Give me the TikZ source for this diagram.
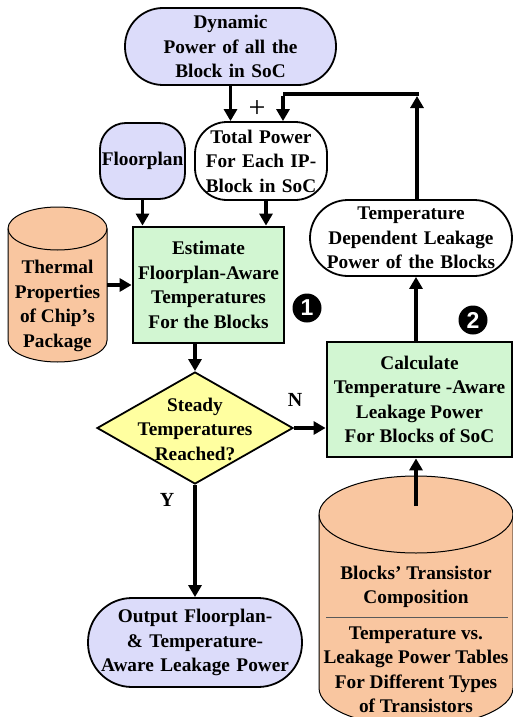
\documentclass[tikz,border=0pt]{standalone}
\usepackage{fontspec}
\setmainfont{Liberation Serif}
\newfontfamily\numfont{Liberation Sans}
\usetikzlibrary{arrows.meta,shapes.geometric}
\definecolor{cblue}{HTML}{DCDCFA}
\definecolor{cgreen}{HTML}{D2F6D2}
\definecolor{cyellow}{HTML}{FFFFA0}
\definecolor{corange}{HTML}{F9C6A0}
\tikzset{
  txt/.style={font=\bfseries\fontsize{19.3}{24.5}\selectfont, align=center, inner sep=0pt},
  stadium/.style={txt, draw, line width=1.8pt, minimum width=#1, text width=#1},
  procbox/.style={txt, draw, line width=2.8pt, fill=cgreen},
  arr/.style={line width=3.8pt, -{Triangle[length=12pt,width=13pt]}},
  cyl/.style={draw, line width=1pt, fill=corange},
  numdot/.style={circle, fill=black, minimum size=29pt, inner sep=0pt, text=white, font=\numfont\bfseries\fontsize{23}{23}\selectfont},
  lbl/.style={font=\bfseries\fontsize{20}{20}\selectfont, inner sep=0pt}
}
\begin{document}
\begin{tikzpicture}[x=1pt,y=-1pt]
\useasboundingbox (0,0) rectangle (513,717);
% nodes
\node[stadium=211pt, fill=cblue, minimum height=77pt, rounded corners=38pt] (dyn) at (230.5,46.5) {Dynamic\\Power of all the\\Block in SoC};
\node[stadium=85pt, fill=cblue, minimum height=76pt, rounded corners=26pt] (fp) at (142.5,161) {Floorplan};
\node[stadium=132pt, fill=white, minimum height=78pt, rounded corners=32pt] (tp) at (261,161) {Total Power\\For Each IP-\\Block in SoC};
\node[procbox, minimum width=151pt, minimum height=116pt] (est) at (208.5,285) {Estimate\\Floorplan-Aware\\Temperatures\\For the Blocks};
\node[stadium=202pt, fill=white, minimum height=76pt, rounded corners=38pt] (tdl) at (411,238) {Temperature\\Dependent Leakage\\Power of the Blocks};
\node[procbox, minimum width=185pt, minimum height=115pt] (calc) at (419.5,399.5) {Calculate\\Temperature -Aware\\Leakage Power\\For Blocks of SoC};
\node[diamond, draw, line width=1.8pt, fill=cyellow, minimum width=196pt, minimum height=112pt, inner sep=0pt] (dec) at (195,428) {};
\node[txt] (dect) at (195,429) {Steady\\Temperatures\\Reached?};
\node[stadium=214pt, fill=cblue, minimum height=89pt, rounded corners=44pt] (out) at (195,642.5) {Output Floorplan-\\\& Temperature-\\Aware Leakage Power};
% thermal cylinder
\path[cyl] (8,228.5) -- (8,340.5) arc[start angle=180, end angle=360, x radius=49.5pt, y radius=21.5pt] -- (107,228.5) arc[start angle=0, end angle=180, x radius=49.5pt, y radius=21.5pt] -- cycle;
\draw[line width=1pt] (8,228.5) arc[start angle=180, end angle=360, x radius=49.5pt, y radius=21.5pt];
\node[minimum width=99pt, minimum height=155pt, inner sep=0pt] (therm) at (57.5,284.5) {};
\node[txt] (thermt) at (57.5,306) {Thermal\\Properties\\of Chip's\\Package};
% transistor cylinder
\path[cyl] (319,514.5) -- (319,688) arc[start angle=180, end angle=360, x radius=97pt, y radius=38.5pt] -- (513,514.5) arc[start angle=0, end angle=180, x radius=97pt, y radius=38.5pt] -- cycle;
\draw[line width=1pt] (319,514.5) arc[start angle=180, end angle=360, x radius=97pt, y radius=38.5pt];
\coordinate (tcyl) at (416,506);
\node[txt] (tc1) at (416,587) {Blocks' Transistor\\Composition};
\draw[gray!70!black, line width=0.6pt] (326,617) -- (508,617);
\node[txt] (tc2) at (416,670) {Temperature vs.\\Leakage Power Tables\\For Different Types\\of Transistors};
% numbers
\node[numdot] (n1) at (307,308) {1};
\node[numdot] (n2) at (473,320) {2};
% labels
\node[font=\fontsize{30}{30}\selectfont, inner sep=0pt] (plus) at (257,109) {+};
\node[lbl] (lN) at (295,400) {N};
\node[lbl] (lY) at (167,500) {Y};
% connectors
\coordinate (fbtop) at (417,94);
\coordinate (fbleft) at (283,94);
\draw[arr] (dyn.south) -- (dyn.south |- tp.north);
\draw[arr] (tdl.north -| fbtop) -- ([yshift=-2pt]fbtop);
\draw[line width=3.8pt] ([xshift=1.9pt]fbtop) -- (fbleft);
\draw[arr] ([yshift=-1.9pt]fbleft) -- (fbleft |- tp.north);
\draw[arr] (fp.south) -- (fp.south |- est.north);
\draw[arr] ([xshift=5pt]tp.south) -- ([xshift=5pt]tp.south |- est.north);
\draw[arr] (therm.east |- est.west) -- (est.west);
\draw[arr] (dec.north |- est.south) -- (dec.north);
\draw[arr] (dec.east) -- (dec.east -| calc.west);
\draw[arr] (dec.south) -- (out.north);
\draw[arr] (tcyl) -- (tcyl |- calc.south);
\coordinate (cup) at (calc.north -| tcyl);
\coordinate (tdown) at (tdl.south -| tcyl);
\draw[arr] (cup) -- (tdown);
\end{tikzpicture}
\end{document}
